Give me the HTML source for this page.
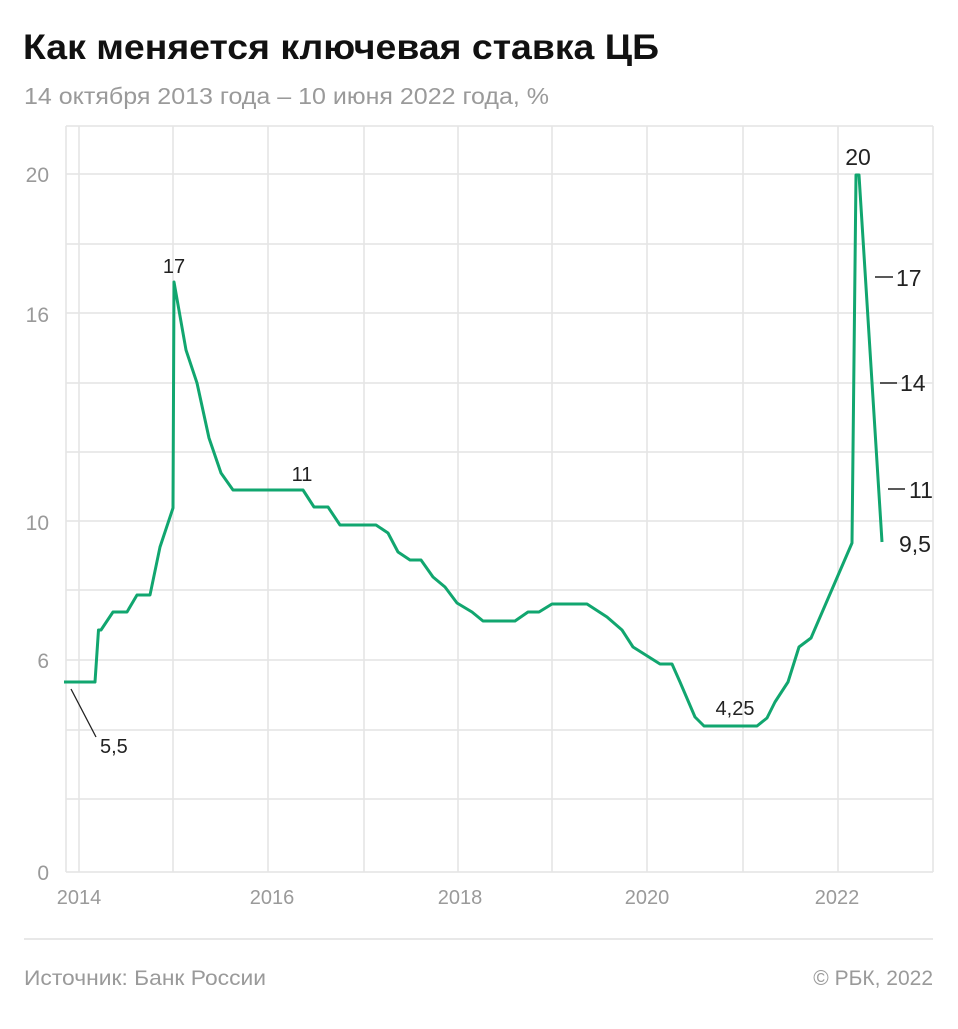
<!DOCTYPE html>
<html><head><meta charset="utf-8"><style>
body{margin:0;background:#fff;width:958px;height:1024px;overflow:hidden;font-family:"Liberation Sans",sans-serif}
</style></head><body>
<svg width="958" height="1024" xmlns="http://www.w3.org/2000/svg" font-family="Liberation Sans, sans-serif">
<text x="23" y="59" font-size="35" font-weight="bold" fill="#111" textLength="636" lengthAdjust="spacingAndGlyphs">Как меняется ключевая ставка ЦБ</text>
<text x="24" y="104" font-size="23" fill="#9a9a9a" textLength="525" lengthAdjust="spacingAndGlyphs">14 октября 2013 года – 10 июня 2022 года, %</text>
<g stroke="#e4e4e4" stroke-width="1.5" fill="none">
<line x1="66" y1="126" x2="933" y2="126"/><line x1="66" y1="174" x2="933" y2="174"/>
<line x1="66" y1="244" x2="933" y2="244"/><line x1="66" y1="313" x2="933" y2="313"/>
<line x1="66" y1="383" x2="933" y2="383"/><line x1="66" y1="452" x2="933" y2="452"/>
<line x1="66" y1="521" x2="933" y2="521"/><line x1="66" y1="590" x2="933" y2="590"/>
<line x1="66" y1="660" x2="933" y2="660"/><line x1="66" y1="730" x2="933" y2="730"/>
<line x1="66" y1="799" x2="933" y2="799"/><line x1="66" y1="872" x2="933" y2="872"/>
<line x1="66" y1="126" x2="66" y2="872"/><line x1="79" y1="126" x2="79" y2="872"/>
<line x1="173" y1="126" x2="173" y2="872"/><line x1="268" y1="126" x2="268" y2="872"/>
<line x1="364" y1="126" x2="364" y2="872"/><line x1="458" y1="126" x2="458" y2="872"/>
<line x1="552" y1="126" x2="552" y2="872"/><line x1="647" y1="126" x2="647" y2="872"/>
<line x1="743" y1="126" x2="743" y2="872"/><line x1="838" y1="126" x2="838" y2="872"/>
<line x1="933" y1="126" x2="933" y2="872"/>
</g>
<g font-size="21" fill="#9a9a9a" text-anchor="end">
<text x="49" y="182">20</text><text x="49" y="322">16</text><text x="49" y="530">10</text>
<text x="49" y="668">6</text><text x="49" y="880">0</text>
</g>
<g font-size="20" fill="#9a9a9a" text-anchor="middle">
<text x="79" y="904">2014</text><text x="272" y="904">2016</text><text x="460" y="904">2018</text>
<text x="647" y="904">2020</text><text x="837" y="904">2022</text>
</g>
<polyline fill="none" stroke="#11a66f" stroke-width="3" stroke-linejoin="round" points="64,682 95,682 98.5,630 101,630 113,612 127,612 137,595 150,595 160,547 173,508 174,282 186,350 197,383 209,438 221,473 233,490 303,490 314,507 328,507 340,525 376,525 388,533 398,552 410,560 421,560 433,577 445,587 457,603 472,612 483,621 515,621 528,612 539,612 552,604 587,604 607,617 622,630 633,647 660,664 672,664 680,682 695,717 704,726 757,726 767,718 775,702 788,682 799,647 811,638 852,543 856,175 859,175 882,542"/>
<g font-size="20" fill="#222">
<text x="174" y="273" text-anchor="middle">17</text>
<text x="302" y="481" text-anchor="middle">11</text>
<text x="100" y="753">5,5</text>
<text x="735" y="715" text-anchor="middle">4,25</text>
</g>
<line x1="71" y1="689" x2="96" y2="737" stroke="#222" stroke-width="1.3"/>
<g font-size="23" fill="#222">
<text x="858" y="165" text-anchor="middle">20</text>
<text x="896" y="286">17</text><text x="900" y="391">14</text><text x="909" y="498">11</text>
<text x="899" y="552">9,5</text>
</g>
<g stroke="#222" stroke-width="1.5">
<line x1="875" y1="277" x2="893" y2="277"/><line x1="880" y1="383" x2="897" y2="383"/>
<line x1="888" y1="489" x2="905" y2="489"/>
</g>
<line x1="24" y1="939" x2="933" y2="939" stroke="#e0e0e0" stroke-width="1.5"/>
<text x="24" y="985" font-size="21" fill="#9a9a9a" textLength="242" lengthAdjust="spacingAndGlyphs">Источник: Банк России</text>
<text x="933" y="985" font-size="21" fill="#9a9a9a" text-anchor="end">© РБК, 2022</text>
</svg>
</body></html>
